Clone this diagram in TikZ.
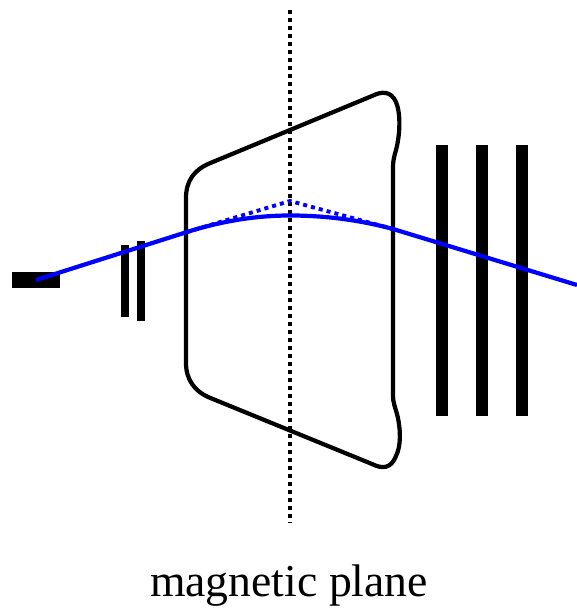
\documentclass[tikz,border=0pt]{standalone}
\usepackage{fontspec}
\setmainfont{Liberation Serif}

\begin{document}
\begin{tikzpicture}[
    x=0.02cm, y=-0.02cm,
    detector/.style={fill=black, inner sep=0pt, outer sep=0pt},
    magnet/.style={line width=2.4pt, line join=round},
    axis/.style={line width=2.4pt, dash pattern=on 2.3pt off 2.25pt},
    beam/.style={blue, line width=2.4pt},
    chord/.style={blue, line width=2.2pt, dash pattern=on 2.3pt off 2.3pt},
    note/.style={font=\fontsize{26}{30}\selectfont},
]

    \useasboundingbox (0,0) rectangle (577,608);

    % detectors along the beam
    \node[detector, minimum width=0.96cm, minimum height=0.32cm] (target) at (36,280) {};
    \node[detector, minimum width=0.16cm, minimum height=1.44cm] (stripa) at (125,281) {};
    \node[detector, minimum width=0.16cm, minimum height=1.6cm] (stripb) at (141,281) {};
    \node[detector, minimum width=0.24cm, minimum height=5.42cm] (chama) at (442,280.5) {};
    \node[detector, minimum width=0.24cm, minimum height=5.42cm] (chamb) at (482,280.5) {};
    \node[detector, minimum width=0.24cm, minimum height=5.42cm] (chamc) at (522,280.5) {};

    % magnet outline
    \draw[magnet] (186,363) -- (186,198)
        .. controls (186,180) and (195,170) .. (208,164)
        -- (372,96)
        .. controls (382,91) and (391,91) .. (396,102)
        .. controls (401,114) and (400,135) .. (396,150)
        .. controls (394,157) and (393,161) .. (393,167)
        -- (393,396)
        .. controls (393,402) and (395,407) .. (397,414)
        .. controls (401,430) and (401,446) .. (396,456)
        .. controls (391,469) and (382,469) .. (372,464)
        -- (208,397)
        .. controls (195,391) and (186,380) .. (186,363) -- cycle;

    % magnetic plane
    \coordinate (top) at (290,10);
    \coordinate (bottom) at (290,522);
    \draw[axis] (top) -- (bottom);

    % beam
    \coordinate (inlet) at (187,232);
    \coordinate (kink) at (290,201);
    \coordinate (outlet) at (393,229);
    \coordinate (exit) at (577,285);
    \draw[chord] (inlet) -- (kink) -- (outlet);
    \draw[beam] (target.center) -- (inlet)
        .. controls (222,221) and (256,215.5) .. (290,215.5)
        .. controls (325,215.5) and (360,220) .. (outlet) -- (exit);

    \node[note] (plane) at (289,586) {magnetic plane};

\end{tikzpicture}
\end{document}
